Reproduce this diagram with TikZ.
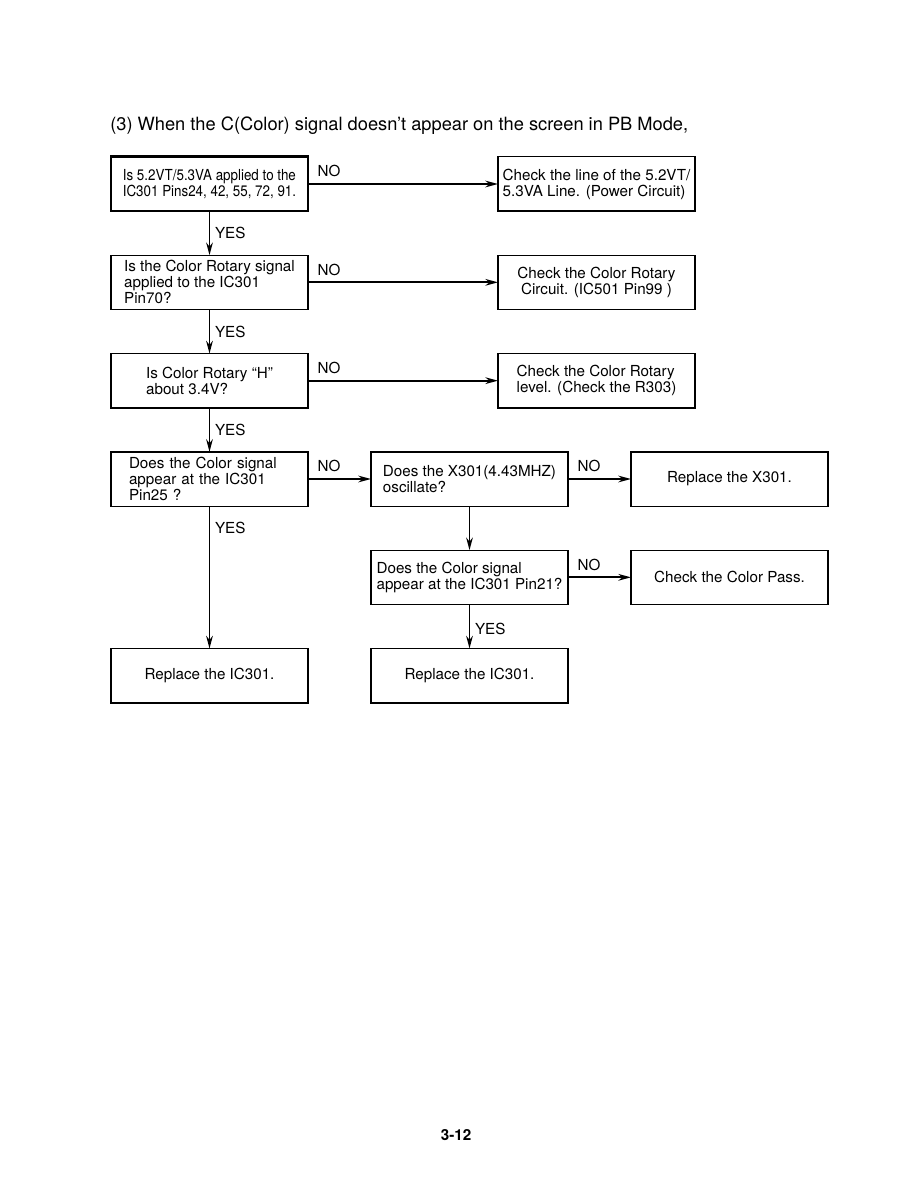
\documentclass[tikz,border=0pt]{standalone}
\usepackage{fontspec}
\setmainfont{TeX Gyre Heros}
\newfontfamily\narrowfont{TeX Gyre Heros}[FakeStretch=0.88]
\usetikzlibrary{arrows.meta,positioning}

\begin{document}
\begin{tikzpicture}[x=0.75pt, y=-0.75pt, node distance=33pt and 47.25pt,
  font=\fontsize{11.4}{12}\selectfont, >={Stealth[length=9.5pt,width=5pt]}]
\tikzstyle{box}=[draw, line width=1pt, outer sep=0pt, minimum width=147.75pt, minimum height=40.75pt, align=left, inner sep=2pt]
\tikzstyle{arr}=[->, line width=1.3pt]
\tikzstyle{no}=[anchor=south west, inner sep=0pt, xshift=6.5pt, yshift=4.5pt]
\tikzstyle{yes}=[anchor=west, inner sep=0pt, xshift=3.5pt]
\useasboundingbox (0,0) rectangle (915,1191);
\node[anchor=base west, inner sep=0pt, font=\fontsize{13.7}{15}\selectfont] (title) at (110,130.5)
  {(3) When the C(Color) signal doesn’t appear on the screen in PB Mode,};
\node[box, line width=2pt, font=\fontsize{11.4}{12.5}\selectfont\narrowfont] (q1) at (209.5,184)
  {Is 5.2VT/5.3VA applied to the\\IC301 Pins24, 42, 55, 72, 91.};
\node[box, below=of q1] (q2) {Is the Color Rotary signal\\applied to the IC301\\Pin70?};
\node[box, below=of q2] (q3) {Is Color Rotary “H”\\about 3.4V?};
\node[box, below=of q3, text width=120.75pt] (q4) {Does the Color signal\\appear at the IC301\\Pin25 ?};
\node[box, right=142.5pt of q1] (c1) {Check the line of the 5.2VT/\\5.3VA Line. (Power Circuit)};
\node[box, right=142.5pt of q2, align=center] (c2) {Check the Color Rotary\\Circuit. (IC501 Pin99 )};
\node[box, right=142.5pt of q3] (c3) {Check the Color Rotary\\level. (Check the R303)};
\node[box, right=of q4] (x1) {Does the X301(4.43MHZ)\\oscillate?};
\node[box, right=of x1, align=center] (rx) {Replace the X301.};
\node[box, below=of x1] (x2) {Does the Color signal\\appear at the IC301 Pin21?};
\node[box, right=of x2, align=center] (cp) {Check the Color Pass.};
\node[box, below=of x2, align=center] (ic2) {Replace the IC301.};
\node[box, left=of ic2, align=center] (ic1) {Replace the IC301.};
\node[anchor=base, inner sep=0pt, font=\fontsize{11.4}{12}\selectfont\bfseries] (page) at (456,1140.5) {3-12};
\draw[arr] (q1) -- node[no, at start]{NO} (c1);
\draw[arr] (q2) -- node[no, at start]{NO} (c2);
\draw[arr] (q3) -- node[no, at start]{NO} (c3);
\draw[arr] (q4) -- node[no, at start]{NO} (x1);
\draw[arr] (x1) -- node[no, at start]{NO} (rx);
\draw[arr] (x2) -- node[no, at start]{NO} (cp);
\draw[arr] (q1) -- node[yes]{YES} (q2);
\draw[arr] (q2) -- node[yes]{YES} (q3);
\draw[arr] (q3) -- node[yes]{YES} (q4);
\draw[arr] (q4) -- node[yes, pos=0.15]{YES} (ic1);
\draw[arr] (x1) -- (x2);
\draw[arr] (x2) -- node[yes, pos=0.55]{YES} (ic2);
\end{tikzpicture}
\end{document}
